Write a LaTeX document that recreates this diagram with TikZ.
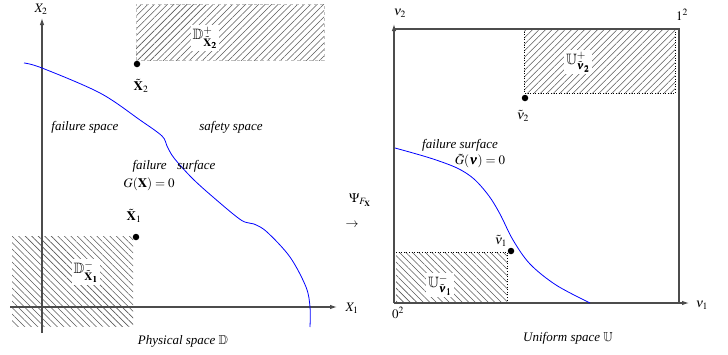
\documentclass[tikz,border=0pt]{standalone}
\usepackage{mathptmx}
\usepackage{fontspec}
\setmainfont{Liberation Serif}
\usepackage{amsmath,amssymb,bm}
\usetikzlibrary{patterns.meta,arrows.meta}
\begin{document}
\begin{tikzpicture}[x=1pt,y=-1pt,
  every node/.style={font=\fontsize{13}{15}\selectfont, inner sep=0.5pt},
  axis/.style={draw=black!70, line width=1.1pt, -{Latex[length=7pt,width=4.5pt]}},
  boxline/.style={draw=black!70, line width=1.1pt},
  hatchNE/.style={pattern={Lines[angle=45,distance=4.6pt,line width=0.55pt]}, pattern color=black!65},
  hatchNW/.style={pattern={Lines[angle=-45,distance=4.6pt,line width=0.55pt]}, pattern color=black!65},
  dot/.style={circle, fill=black, inner sep=0pt, minimum size=6.5pt},
  lab/.style={fill=white, inner sep=2pt, font=\fontsize{15}{17}\selectfont},
  curve/.style={draw=blue, line width=0.8pt},
  txt/.style={font=\fontsize{13}{15}\selectfont\itshape, inner sep=0.5pt}]
\useasboundingbox (0,0) rectangle (728,354);

% ---------------- left panel ----------------
\fill[hatchNW] (12,236) rectangle (133,326);
\fill[hatchNE] (136,4) rectangle (324,60);
\draw[black!25, dash pattern=on 3pt off 3pt, line width=0.4pt] (136,60) -- (136,4) -- (324,4) -- (324,60) -- cycle;

\coordinate (xo) at (42,333);
\coordinate (xt) at (42,18);
\coordinate (xl) at (10,307);
\coordinate (xr) at (337,307);
\draw[axis] (xo) -- (xt);
\draw[axis] (xl) -- (xr);
\node (X2) at (41,9) {$X_2$};
\node (X1) at (352,308) {$X_1$};

\node[lab] (Dm) at (86,272) {$\mathbb{D}^{-}_{\tilde{\mathbf{X}}_{\bm{1}}}$};
\node[lab] (Dp) at (205,38) {$\mathbb{D}^{+}_{\tilde{\mathbf{X}}_{\bm{2}}}$};

\node[dot] (x1) at (136,237) {};
\node (x1l) at (134,216) {$\tilde{\mathbf{X}}_1$};
\node[dot] (x2) at (137,64) {};
\node (x2l) at (141,86) {$\tilde{\mathbf{X}}_2$};

\draw[curve] plot[smooth, tension=0.55] coordinates {(24,63) (42,68) (100,93) (140,120) (162,136) (167,146) (174,158) (192,178) (213,197) (241,220) (254,224) (267,232) (290,257) (306,287) (310,307) (310,327)};

\node[txt] (fs) at (85,127) {failure space};
\node[txt] (ss) at (231,127) {safety space};
\node[txt] (fsu) at (174,166) {failure\hspace{0.8em}surface};
\node (geq) at (149,184) {$G(\mathbf{X})=0$};
\node[txt] (phys) at (183,341) {Physical space $\mathbb{D}$};

% ---------------- mapping ----------------
\node (psi) at (360,200) {$\Psi_{F_{\mathbf{X}}}$};
\node (arr) at (352,225) {$\rightarrow$};

% ---------------- right panel ----------------
\fill[hatchNE] (524,29) rectangle (675,93);
\draw[black, dotted, line width=0.6pt] (524,29) -- (524,93) -- (675,93) -- (675,29);
\fill[hatchNW] (396,252) rectangle (507,303);
\draw[black, dotted, line width=0.6pt] (396,252) -- (507,252) -- (507,303);

\coordinate (uo) at (394,303);
\coordinate (ut) at (394,24);
\coordinate (ur) at (689,303);
\coordinate (utr) at (679,29);
\coordinate (ubr) at (679,303);
\draw[axis] (uo) -- (ut);
\draw[axis] (uo) -- (ur);
\draw[boxline] (394,29) -- (utr) -- (ubr);
\node (v2) at (400,13) {$\nu_2$};
\node (v1) at (702,305) {$\nu_1$};
\node (one) at (682,15) {$1^2$};
\node (zero) at (398,313) {$0^2$};

\node[lab] (Up) at (578,62) {$\mathbb{U}^{+}_{\tilde{\bm{\nu}}_{\bm{2}}}$};
\node[lab] (Um) at (440,285) {$\mathbb{U}^{-}_{\tilde{\bm{\nu}}_{\bm{1}}}$};

\node[dot] (v2p) at (525,98) {};
\node (v2l) at (523,116) {$\tilde{\nu}_2$};
\node[dot] (v1p) at (511,251) {};
\node (v1l) at (501,241) {$\tilde{\nu}_1$};

\draw[curve] plot[smooth, tension=0.55] coordinates {(395,148) (430,158) (457,168) (474,179) (489,196) (500,214) (513,240) (530,264) (556,285) (590,303)};

\node[txt] (ufs) at (460,145) {failure surface};
\node (ugeq) at (480,161) {$\tilde{G}(\bm{\nu})=0$};
\node[txt] (unif) at (568,338) {Uniform space $\mathbb{U}$};
\end{tikzpicture}
\end{document}
